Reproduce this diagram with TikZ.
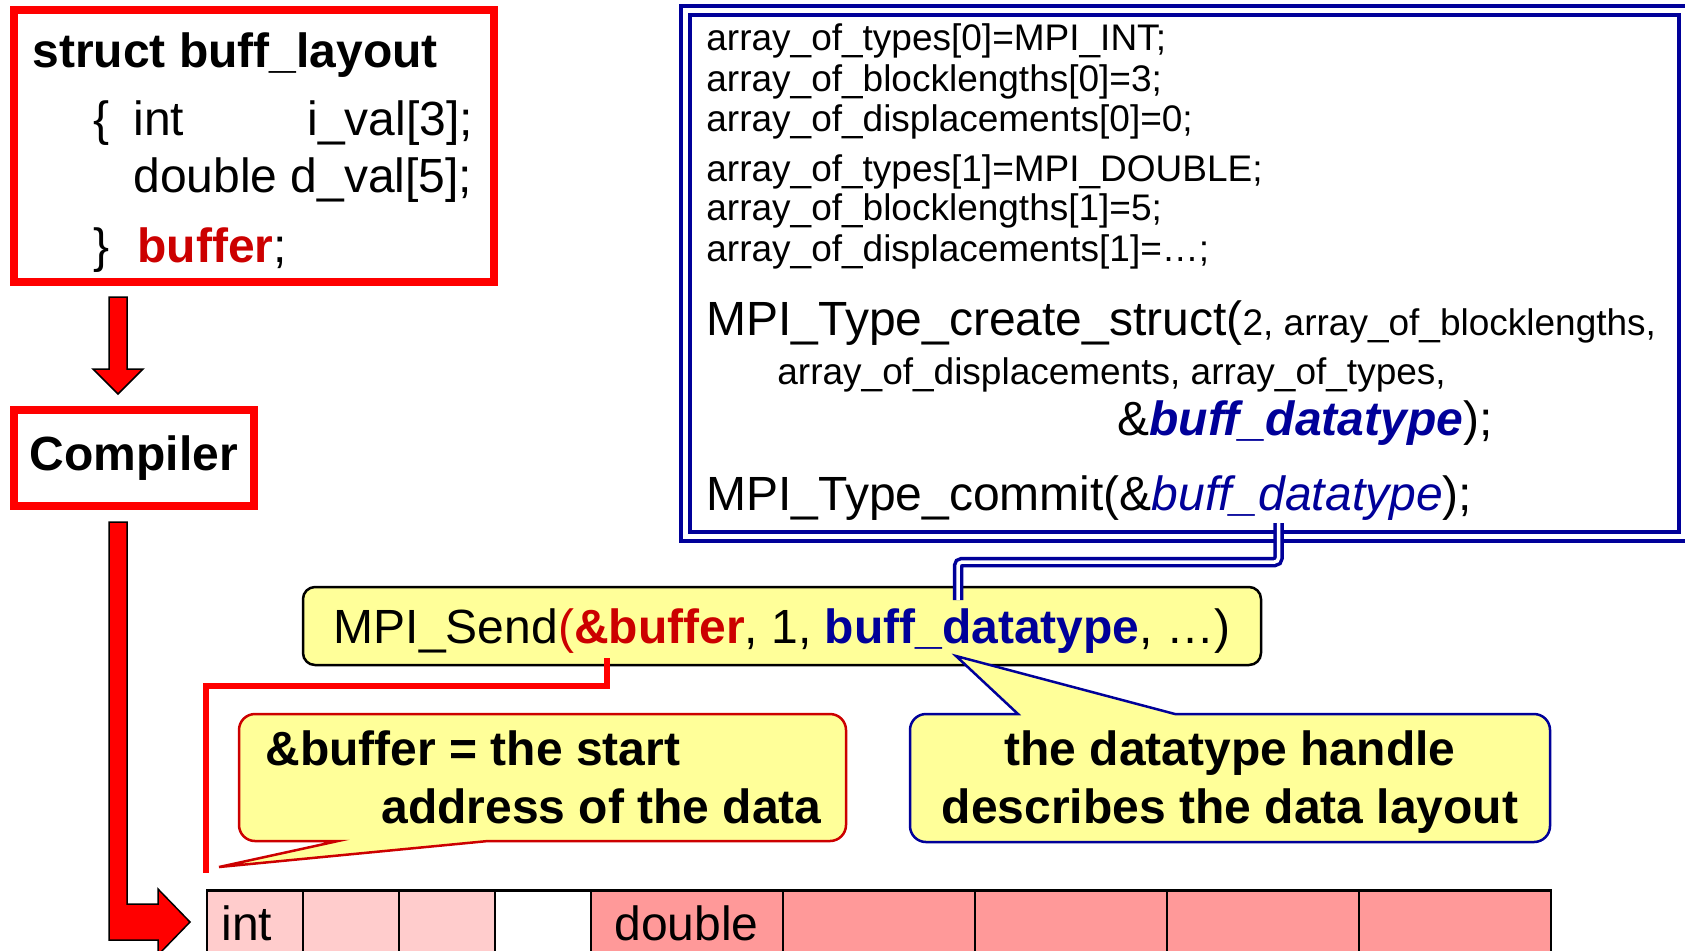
\documentclass[tikz,border=0pt]{standalone}
\usepackage{fontspec}
\setmainfont{Liberation Sans}
\usepackage{xcolor}
\definecolor{FrameRed}{HTML}{FF0000}
\definecolor{DarkRed}{HTML}{CC0000}
\definecolor{Navy}{HTML}{000099}
\definecolor{NoteYellow}{HTML}{FFFF99}
\definecolor{IntPink}{HTML}{FFCCCC}
\definecolor{DblPink}{HTML}{FF9999}

\newcommand{\bigcode}{\fontsize{24}{28.8}\selectfont}
\newcommand{\smallcode}{\fontsize{18.5}{22}\selectfont}

\begin{document}
\begin{tikzpicture}[
  x=0.5pt, y=-0.5pt,
  redframe/.style={rectangle, draw=FrameRed, line width=4pt, inner sep=0pt},
  codeline/.style={anchor=base west, inner sep=0pt, font=\bigcode},
  typeline/.style={anchor=base west, inner sep=0pt, font=\smallcode},
  notetext/.style={anchor=base, inner sep=0pt, font=\bigcode\bfseries},
  typebox/.style={rectangle, draw=Navy, line width=2pt, double=white, double distance=2.5pt, inner sep=0pt},
  callbox/.style={rectangle, rounded corners=6pt, draw=black, line width=1.25pt, fill=NoteYellow, inner sep=0pt},
  note/.style={line width=1.25pt, fill=NoteYellow},
  blockarrow/.style={fill=red, draw=black, line width=0.75pt, line join=miter},
  bufline/.style={draw=FrameRed, line width=3pt},
  typelink/.style={draw=Navy, line width=1.75pt, double=white, double distance=1.75pt, rounded corners=2pt},
  cell/.style={rectangle, draw=black, line width=1pt, anchor=north west, minimum height=40pt, inner sep=0pt}
]
\useasboundingbox (0,0) rectangle (1685,950);

% C struct declaration
\node[redframe, minimum width=240pt, minimum height=136pt] (struct) at (254,146) {};
\node[codeline, font=\bigcode\bfseries] (sname) at (32,67) {struct buff\_layout};
\node[codeline] (lbrace) at (93,135) {\{};
\node[codeline] (ival) at (133,135) {int};
\node[codeline] (ivar) at (307,135) {i\_val[3];};
\node[codeline] (dval) at (133,192) {double d\_val[5];};
\node[codeline] (rbrace) at (93,262) {\}};
\node[codeline] (bufname) at (137,262) {\textcolor{DarkRed}{\textbf{buffer}};};

% Compiler
\node[redframe, minimum width=120pt, minimum height=48pt, font=\bigcode\bfseries] (compiler) at (134,458) {Compiler};

% block arrows
\coordinate (srcarrow) at (118,297);
\coordinate (comparrow) at (118,522);
\draw[blockarrow] ([xshift=-4.5pt]srcarrow) -- ++(18,0) -- ++(0,72) -- ++(16,0)
  -- ++(-25,25) -- ++(-25,-25) -- ++(16,0) -- cycle;
\draw[blockarrow] ([xshift=-4.5pt]comparrow) -- ++(18,0) -- ++(0,382) -- ++(31,0)
  -- ++(0,-15) -- ++(32,33) -- ++(-32,33) -- ++(0,-15) -- ++(-49,0) -- cycle;

% derived datatype construction
\node[typebox, minimum width=498.75pt, minimum height=263pt] (types) at (1184.25,273) {};
\node[typeline] (t0) at (706,50) {array\_of\_types[0]=MPI\_INT;};
\node[typeline] (b0) at (706,91) {array\_of\_blocklengths[0]=3;};
\node[typeline] (d0) at (706,131) {array\_of\_displacements[0]=0;};
\node[typeline] (t1) at (706,181) {array\_of\_types[1]=MPI\_DOUBLE;};
\node[typeline] (b1) at (706,220) {array\_of\_blocklengths[1]=5;};
\node[typeline] (d1) at (706,261) {array\_of\_displacements[1]=…;};
\node[codeline] (create) at (706,335) {MPI\_Type\_create\_struct({\smallcode 2, array\_of\_blocklengths,}};
\node[typeline] (create2) at (777,384) {array\_of\_displacements, array\_of\_types,};
\node[codeline] (create3) at (1117,435) {\&\textcolor{Navy}{\textbf{\textit{buff\_datatype}}});};
\node[codeline] (commit) at (706,510) {MPI\_Type\_commit(\&\textcolor{Navy}{\textit{buff\_datatype}});};

% send call
\node[callbox, minimum width=479pt, minimum height=39pt, font=\bigcode, text depth=0pt] (send) at (782,626)
  {MPI\_Send\textcolor{DarkRed}{(\textbf{\&buffer}}, 1, \textcolor{Navy}{\textbf{buff\_datatype}}, …)};

\coordinate (typeref) at (1278.5,523);
\coordinate (typeend) at (958,600);
\draw[typelink] (typeref) -- ++(0,39) -| (typeend);

% memory layout of buffer
\foreach \x/\w/\c [count=\i] in {206/48/IntPink, 302/48/IntPink, 398/48/IntPink, 494/48/white,
    590/96/DblPink, 782/96/DblPink, 974/96/DblPink, 1166/96/DblPink, 1358/96/DblPink}
  \node[cell, fill=\c, minimum width=\w pt] (cell\i) at (\x,890) {};
\draw[line width=1.5pt] (cell1.north west) -- (cell9.north east);
\node[codeline] (intlab) at (221,940) {int};
\node[codeline] (dbllab) at (614,940) {double};

\coordinate (bufref) at (607,658);
\coordinate (bufend) at (206,873);
\draw[bufline] (bufref) -- ++(0,28) -| (bufend);

% callouts
\coordinate (addrtip) at (219,867);
\coordinate (typetip) at (956,656);
\draw[note, draw=DarkRed] (846,778) [rounded corners=8pt] -- (846,841) [sharp corners] -- (488,841)
  -- (addrtip) -- (338,841) [rounded corners=8pt] -- (239,841) -- (239,714) -- (846,714) -- cycle;
\node[codeline, font=\bigcode\bfseries] (addr1) at (265,765) {\&buffer = the start};
\node[codeline, font=\bigcode\bfseries] (addr2) at (381,823) {address of the data};

\draw[note, draw=Navy] (1550,778) [rounded corners=8pt] -- (1550,842) -- (910,842) -- (910,714)
  [sharp corners] -- (1018,714) -- (typetip) -- (1175,714) [rounded corners=8pt] -- (1550,714) -- cycle;
\node[notetext] (handle1) at (1230,765) {the datatype handle};
\node[notetext] (handle2) at (1230,823) {describes the data layout};

\end{tikzpicture}
\end{document}
